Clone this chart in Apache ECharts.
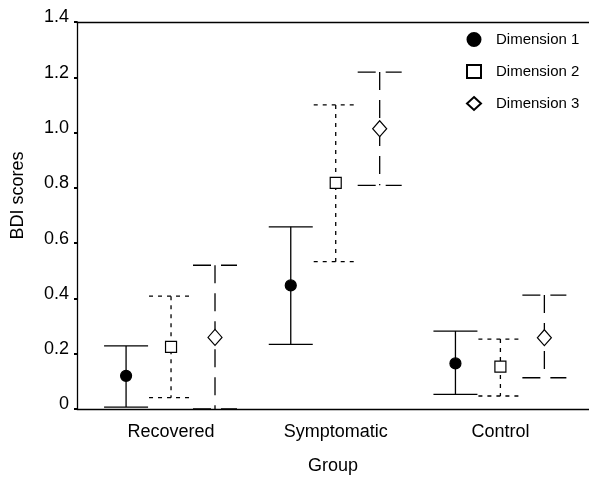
<!DOCTYPE html>
<html>
<head>
<meta charset="utf-8">
<script src="https://cdn.jsdelivr.net/npm/echarts@6/dist/echarts.min.js"></script>
<style>
  html, body { margin: 0; padding: 0; background: #fff; }
  #main { width: 589px; height: 477px; }
</style>
</head>
<body>
<div id="main"></div>
<script>
var groups = ['Recovered', 'Symptomatic', 'Control'];
var groupPos = [1, 2, 3];
var dimNames = ['Dimension 1', 'Dimension 2', 'Dimension 3'];
var dimOffset = [-0.273, 0, 0.267];

// mean, lower and upper ends of the bars, per dimension (Recovered, Symptomatic, Control)
var d1Mean = [0.12, 0.447, 0.165];
var d1Low = [0.007, 0.234, 0.053];
var d1High = [0.228, 0.659, 0.282];
var d2Mean = [0.225, 0.818, 0.153];
var d2Low = [0.041, 0.533, 0.047];
var d2High = [0.408, 1.10, 0.253];
var d3Mean = [0.259, 1.014, 0.258];
var d3Low = [0.0, 0.809, 0.113];
var d3High = [0.52, 1.219, 0.412];

var yTicks = [0, 0.2, 0.4, 0.6, 0.8, 1.0, 1.2, 1.4];

var means = [d1Mean, d2Mean, d3Mean];
var lows = [d1Low, d2Low, d3Low];
var highs = [d1High, d2High, d3High];
var dashes = [null, [4, 5], [18, 10]];
var symbols = ['circle', 'rect', 'diamond'];
var symSizes = [11, 11, [14, 16]];
var fills = ['#000', '#fff', '#fff'];

var font = 'Liberation Sans, Arial, sans-serif';
var xMin = 0.429, xMax = 3.538;

function errorRender(dash) {
    return function (params, api) {
        var x = api.value(0);
        var top = api.coord([x, api.value(2)]);
        var bot = api.coord([x, api.value(1)]);
        var hw = 22;
        var style = {stroke: '#000', lineWidth: 1.3, lineDash: dash, fill: null};
        return {
            type: 'group',
            children: [
                {type: 'line', shape: {x1: top[0], y1: top[1], x2: bot[0], y2: bot[1]}, style: style},
                {type: 'line', shape: {x1: top[0] - hw, y1: top[1], x2: top[0] + hw, y2: top[1]}, style: style},
                {type: 'line', shape: {x1: bot[0] - hw, y1: bot[1], x2: bot[0] + hw, y2: bot[1]}, style: style}
            ]
        };
    };
}

var series = [];
for (var d = 0; d < 3; d++) {
    var bars = [], pts = [];
    for (var g = 0; g < groups.length; g++) {
        var x = groupPos[g] + dimOffset[d];
        bars.push([x, lows[d][g], highs[d][g]]);
        pts.push([x, means[d][g]]);
    }
    series.push({
        type: 'custom',
        name: dimNames[d] + ' range',
        renderItem: errorRender(dashes[d]),
        encode: {x: 0, y: [1, 2]},
        data: bars,
        z: 2,
        silent: true
    });
    series.push({
        type: 'scatter',
        name: dimNames[d],
        symbol: symbols[d],
        symbolSize: symSizes[d],
        itemStyle: {color: fills[d], borderColor: '#000', borderWidth: 1.2, opacity: 1},
        data: pts,
        z: 5
    });
}

var myChart = echarts.init(document.getElementById('main'));
var option = {
    backgroundColor: '#fff',
    animation: false,
    textStyle: {fontFamily: font, color: '#000'},
    grid: {left: 77, right: 0, top: 22, bottom: 68, outerBoundsMode: 'none'},
    legend: {
        data: dimNames,
        orient: 'vertical',
        left: 461,
        top: 27,
        itemGap: 17,
        itemWidth: 14,
        itemHeight: 13,
        textStyle: {fontFamily: font, fontSize: 15, color: '#000', padding: [0, 0, 0, 10]}
    },
    xAxis: [{
        type: 'value',
        min: xMin,
        max: xMax,
        name: 'Group',
        nameLocation: 'middle',
        nameGap: 48,
        nameTextStyle: {fontFamily: font, fontSize: 18, color: '#000'},
        axisLine: {show: true, lineStyle: {color: '#000', width: 1.3}},
        axisTick: {show: false},
        splitLine: {show: false},
        axisLabel: {
            customValues: groupPos,
            margin: 14,
            fontFamily: font,
            fontSize: 18,
            color: '#000',
            formatter: function (v) {
                var i = groupPos.indexOf(Math.round(v));
                return i >= 0 ? groups[i] : '';
            }
        }
    }, {
        type: 'value',
        position: 'top',
        min: xMin,
        max: xMax,
        axisLine: {show: true, lineStyle: {color: '#000', width: 1.3}},
        axisTick: {show: false},
        axisLabel: {show: false},
        splitLine: {show: false}
    }],
    yAxis: {
        type: 'value',
        min: 0,
        max: 1.4,
        interval: 0.2,
        name: 'BDI scores',
        nameLocation: 'middle',
        nameGap: 50,
        nameTextStyle: {fontFamily: font, fontSize: 18, color: '#000', padding: [0, 0, 0, 40]},
        axisLine: {show: true, lineStyle: {color: '#000', width: 1.3}},
        axisTick: {show: true, length: 3, lineStyle: {color: '#000', width: 2}, customValues: yTicks},
        splitLine: {show: false},
        axisLabel: {
            margin: 8,
            fontFamily: font,
            fontSize: 18,
            color: '#000',
            verticalAlign: 'bottom',
            lineHeight: 9,
            formatter: function (v) { return v === 0 ? '0' : v.toFixed(1); }
        }
    },
    series: series
};
myChart.setOption(option);
</script>
</body>
</html>
